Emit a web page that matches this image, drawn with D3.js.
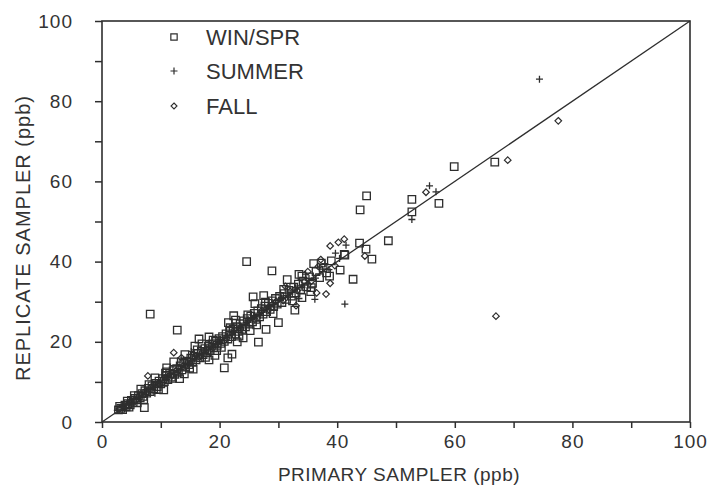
<!DOCTYPE html>
<html>
<head>
<meta charset="utf-8">
<script src="https://cdn.jsdelivr.net/npm/d3@7"></script>
<style>
  body { margin: 0; background: #fff; }
  text { font-family: "Liberation Sans", Arial, sans-serif; fill: #333; }
</style>
</head>
<body>
<svg id="chart" width="711" height="486"></svg>
<script>
// values, [primary, replicate] in ppb
const winSpr = [
  [2.8,3.0],[3.2,3.4],[3.5,3.1],[3.9,4.2],[4.1,3.8],[4.4,4.6],[4.8,4.3],[5.0,5.4],[5.3,4.9],[5.6,5.9],
  [5.9,5.5],[6.2,6.6],[6.5,6.0],[6.8,7.1],[7.0,6.4],[7.3,7.8],[7.6,7.2],[7.9,8.4],[8.2,7.6],[8.5,9.0],
  [8.8,8.3],[9.1,9.6],[9.4,8.8],[9.7,10.2],[10.0,9.5],[4.3,5.2],[6.0,4.8],[7.2,3.6],[8.2,26.9],[6.6,8.2],
  [9.0,11.0],[10.3,10.8],[10.6,10.1],[10.9,11.5],[11.2,10.6],[11.5,12.1],[11.8,11.2],[12.1,12.8],[12.4,11.9],
  [12.7,13.3],[13.0,12.4],[13.3,14.0],[13.6,13.0],[13.9,14.6],[14.2,13.7],[14.5,15.2],[14.8,14.3],[15.1,15.9],
  [15.4,14.9],[15.7,16.4],[16.0,15.5],[16.3,17.1],[16.6,16.0],[16.9,17.6],[17.2,16.8],[17.5,18.3],[17.8,17.3],
  [18.1,18.9],[18.4,17.8],[18.7,19.5],[19.0,18.6],[19.3,20.2],[19.6,19.1],[19.9,20.8],[12.8,22.9],[16.5,20.7],
  [14.1,16.8],[11.0,13.5],[17.0,19.5],[15.5,13.2],[13.2,10.8],[12.2,15.0],[18.2,21.2],[10.5,8.0],[20.8,13.5],
  [21.4,16.0],[22.1,16.9],[19.5,17.8],[18.2,15.5],[14.0,12.0],[11.0,12.5],
  [3.0,3.9],[4.6,3.7],[5.5,6.6],[7.1,5.6],[8.0,9.3],[9.6,8.1],[10.8,12.2],[12.0,10.9],[13.5,15.0],[14.9,13.4],
  [16.2,18.0],[17.6,16.1],[18.9,20.4],[20.3,18.6],[21.8,23.5],[23.3,21.4],[24.8,26.7],[26.3,24.2],[27.8,29.9],
  [29.1,27.0],[30.9,33.1],[32.4,30.2],[34.0,36.4],[35.6,33.5],[37.3,39.6],[38.7,36.4],[15.8,18.9],[19.2,16.6],
  [22.7,25.4],[25.2,22.8],
  [20.2,19.6],[20.5,21.3],[20.8,20.1],[21.1,22.0],[21.4,20.7],[21.7,22.6],[22.0,21.3],[22.3,23.2],[22.6,21.9],
  [22.9,23.8],[23.2,22.6],[23.5,24.5],[23.8,23.1],[24.1,25.2],[24.4,23.7],[24.7,25.8],[25.0,24.4],[25.3,26.4],
  [25.6,25.0],[25.9,27.1],[26.2,25.6],[26.5,27.7],[26.8,26.2],[27.1,28.3],[27.4,26.9],[27.7,28.9],[28.0,27.5],
  [28.3,29.6],[28.6,28.1],[28.9,30.2],[29.2,28.8],[29.5,30.8],[29.8,29.4],[24.6,40.0],[28.9,37.7],[26.6,19.9],
  [30.0,24.8],[27.9,23.1],[25.7,31.2],[22.4,26.5],[24.0,21.0],[26.0,29.5],[23.0,20.0],[27.5,31.5],[21.5,24.8],
  [30.2,31.3],[30.6,29.8],[31.0,32.0],[31.4,30.6],[31.8,32.8],[32.2,31.4],[32.6,33.6],[33.0,32.2],[33.4,34.4],
  [33.8,33.0],[34.2,35.1],[34.8,33.7],[35.3,36.2],[35.8,34.6],[36.4,37.5],[37.0,36.0],[37.6,38.4],[38.2,37.2],
  [32.8,27.9],[34.0,31.0],[31.5,35.5],[36.0,39.5],[39.0,40.2],[41.2,41.8],[40.5,37.9],[41.3,41.6],[42.7,35.6],
  [43.8,44.6],[44.9,43.1],[45.9,40.6],[48.7,45.2],[43.9,52.9],[45.0,56.4],[52.7,55.5],[52.7,52.4],[57.3,54.5],
  [59.9,63.7],[66.8,64.8],[35.5,32.5],[33.5,36.8]
];

const summer = [
  [2.6,2.9],[3.4,3.6],[4.5,4.2],[5.4,5.7],[6.3,6.0],[7.4,7.7],[8.3,8.0],[9.5,9.8],[10.7,10.4],[11.6,12.0],
  [12.9,12.5],[13.8,14.2],[14.9,14.6],[16.1,16.5],[17.3,17.0],[18.6,19.0],[19.8,19.4],[21.0,21.5],[22.2,21.8],
  [23.4,23.9],[24.5,24.1],[25.8,26.3],[26.9,26.5],[28.1,28.6],[29.3,28.9],[30.5,31.0],[31.7,31.2],[32.9,33.5],
  [34.0,33.6],[35.2,35.8],[36.3,35.9],[37.5,38.1],[38.6,38.0],[36.2,30.6],[39.7,42.1],[41.5,44.1],[41.3,29.4],
  [52.7,50.5],[55.7,58.9],[56.8,57.4],[74.4,85.5],[40.4,40.8],[37.9,39.5],[34.6,36.9],[33.5,30.8],[15.2,17.6],
  [9.0,7.2]
];

const fall = [
  [3.0,3.3],[3.8,3.5],[4.7,5.0],[5.7,5.3],[6.6,7.0],[7.7,7.3],[8.6,9.1],[9.8,9.4],[10.8,11.2],[11.9,11.5],
  [12.2,17.3],[13.1,13.6],[14.3,13.9],[15.4,15.9],[16.6,16.2],[17.7,18.2],[18.9,18.5],[20.1,20.6],[21.2,20.8],
  [22.5,23.0],[23.6,23.2],[24.9,25.4],[26.0,25.6],[27.2,27.8],[28.4,28.0],[29.6,30.1],[30.8,30.3],[32.0,32.6],
  [33.2,32.8],[34.4,35.0],[35.6,35.1],[36.5,32.2],[38.1,31.9],[38.8,34.6],[38.8,43.9],[37.2,40.5],[36.8,38.8],
  [39.6,39.0],[40.2,44.8],[41.2,45.6],[44.7,41.4],[55.1,57.3],[69.0,65.3],[77.6,75.1],[67.0,26.4],[7.8,11.5],
  [13.5,16.0],[31.2,33.8],[35.0,37.5],[33.0,29.0]
];

const tickValues = [0, 20, 40, 60, 80, 100];
const minorTicks = [10, 30, 50, 70, 90];
const legendLabels = ["WIN/SPR", "SUMMER", "FALL"];

const svg = d3.select("#chart");
const ink = "#2e2e2e";

const x = d3.scaleLinear().domain([0, 100]).range([102, 690]);
const y = d3.scaleLinear().domain([0, 100]).range([422, 21]);

// frame
svg.append("rect")
  .attr("x", x(0)).attr("y", y(100))
  .attr("width", x(100) - x(0)).attr("height", y(0) - y(100))
  .attr("fill", "none").attr("stroke", ink).attr("stroke-width", 1.6);

// axes (outward ticks, major labelled every 20)
const xAxis = svg.append("g")
  .attr("transform", `translate(0,${y(0)})`)
  .call(d3.axisBottom(x).tickValues(tickValues.concat(minorTicks)).tickSize(6)
    .tickFormat(d => tickValues.includes(d) ? d : ""));
const yAxis = svg.append("g")
  .attr("transform", `translate(${x(0)},0)`)
  .call(d3.axisLeft(y).tickValues(tickValues.concat(minorTicks)).tickSize(7)
    .tickFormat(d => tickValues.includes(d) ? d : ""));

[xAxis, yAxis].forEach(g => {
  g.select(".domain").remove();
  g.selectAll(".tick line").attr("stroke", ink).attr("stroke-width", 1.5);
  g.selectAll(".tick text")
    .style("font-family", '"Liberation Sans", Arial, sans-serif')
    .style("font-size", "19px")
    .style("letter-spacing", "1px")
    .attr("fill", "#333");
});
xAxis.selectAll(".tick text").attr("y", 13);
yAxis.selectAll(".tick text").attr("x", -29);

// 1:1 line
svg.append("line")
  .attr("x1", x(0)).attr("y1", y(0))
  .attr("x2", x(100)).attr("y2", y(100))
  .attr("stroke", ink).attr("stroke-width", 1.3);

// markers
const squareSym = d3.symbol().type(d3.symbolSquare).size(56);
const plusPath = s => `M${-s},0H${s}M0,${-s}V${s}`;
const diamondPath = s => `M0,${-s}L${s},0L0,${s}L${-s},0Z`;

const plot = svg.append("g");

plot.selectAll(".win").data(winSpr).enter().append("path")
  .attr("class", "win")
  .attr("transform", d => `translate(${x(d[0])},${y(d[1])})`)
  .attr("d", squareSym)
  .attr("fill", "none").attr("stroke", ink).attr("stroke-width", 1.3);

plot.selectAll(".fall").data(fall).enter().append("path")
  .attr("class", "fall")
  .attr("transform", d => `translate(${x(d[0])},${y(d[1])})`)
  .attr("d", diamondPath(3.3))
  .attr("fill", "none").attr("stroke", ink).attr("stroke-width", 1.2);

plot.selectAll(".summer").data(summer).enter().append("path")
  .attr("class", "summer")
  .attr("transform", d => `translate(${x(d[0])},${y(d[1])})`)
  .attr("d", plusPath(3.5))
  .attr("fill", "none").attr("stroke", ink).attr("stroke-width", 1.3);

// legend
const legend = svg.append("g").attr("transform", "translate(174,0)");
const legendY = [37, 71, 106];
legend.append("path").attr("transform", `translate(0,${legendY[0]})`)
  .attr("d", d3.symbol().type(d3.symbolSquare).size(40))
  .attr("fill", "none").attr("stroke", ink).attr("stroke-width", 1.2);
legend.append("path").attr("transform", `translate(0,${legendY[1]})`)
  .attr("d", plusPath(3.5)).attr("stroke", ink).attr("stroke-width", 1.2);
legend.append("path").attr("transform", `translate(0,${legendY[2]})`)
  .attr("d", diamondPath(3)).attr("fill", "none").attr("stroke", ink).attr("stroke-width", 1.1);
legend.selectAll(".lbl").data(legendLabels).enter().append("text")
  .attr("x", 32).attr("y", (d, i) => legendY[i] + 8)
  .style("font-size", "22px")
  .text(d => d);

// axis titles
svg.append("text")
  .attr("x", (x(0) + x(100)) / 2 + 3).attr("y", 481)
  .attr("text-anchor", "middle")
  .style("font-size", "19px").style("letter-spacing", "0.5px")
  .text("PRIMARY SAMPLER (ppb)");

svg.append("text")
  .attr("transform", "translate(30,238) rotate(-90)")
  .attr("text-anchor", "middle")
  .style("font-size", "20px").style("letter-spacing", "1px")
  .text("REPLICATE SAMPLER (ppb)");
</script>
</body>
</html>
